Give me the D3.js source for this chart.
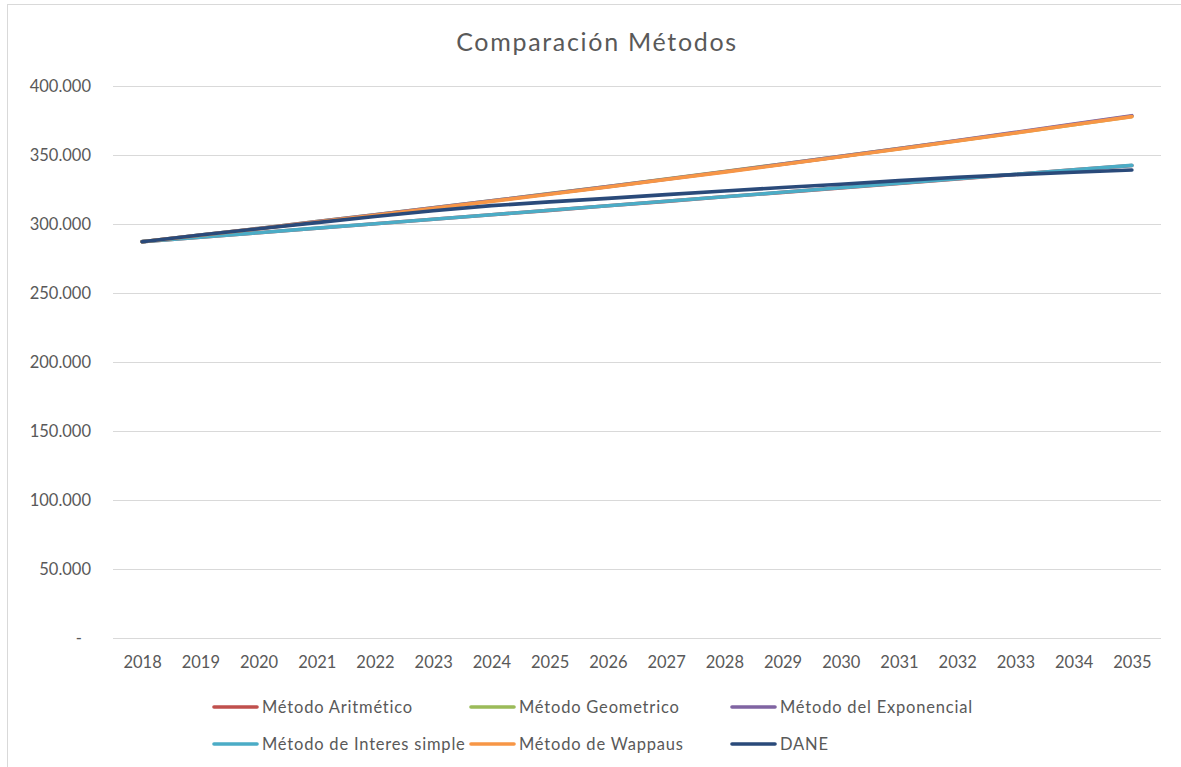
<!DOCTYPE html>
<html>
<head>
<meta charset="utf-8">
<script src="https://cdn.jsdelivr.net/npm/d3@7"></script>
<style>
  body { margin: 0; background: #fff; }
  svg text { font-family: Lato, "Open Sans", sans-serif; fill: #595959; }
</style>
</head>
<body>
<div id="container"></div>
<script>
// years on the category axis
var years = ["2018", "2019", "2020", "2021", "2022", "2023", "2024", "2025", "2026",
             "2027", "2028", "2029", "2030", "2031", "2032", "2033", "2034", "2035"];

// population per method
var aritmetico = [287200, 290400, 293700, 296900, 300200, 303400, 306700, 309900, 313200,
                  316400, 319700, 322900, 326200, 329400, 332700, 335900, 339200, 342400];
var geometrico = [287200, 292000, 296800, 301700, 306700, 311800, 316800, 322000, 327200,
                  332600, 338000, 343500, 349000, 354600, 360300, 366100, 372000, 378000];
var exponencial = [287200, 292000, 296800, 301700, 306600, 311700, 316800, 321900, 327100,
                   332400, 337900, 343400, 349000, 354700, 360500, 366400, 372400, 378500];
var interesSimple = [287200, 290500, 293700, 297000, 300200, 303500, 306700, 310000, 313200,
                     316500, 319700, 323000, 326300, 329500, 332800, 336000, 339300, 342500];
var wappaus = [287200, 291900, 296600, 301400, 306400, 311400, 316400, 321600, 326800,
               332200, 337600, 343100, 348700, 354300, 360100, 366000, 371900, 377800];
var dane = [287200, 292000, 296600, 301000, 305400, 309600, 313300, 316000, 318600,
            321300, 323900, 326400, 328800, 331400, 333900, 335800, 337500, 339100];

var yTicks = [0, 50000, 100000, 150000, 200000, 250000, 300000, 350000, 400000];

var series = [
  { name: "Método Aritmético", color: "#C0504D", values: aritmetico },
  { name: "Método Geometrico", color: "#9BBB59", values: geometrico },
  { name: "Método del Exponencial", color: "#8064A2", values: exponencial },
  { name: "Método de Interes simple", color: "#4BACC6", values: interesSimple },
  { name: "Método de Wappaus", color: "#F79646", values: wappaus },
  { name: "DANE", color: "#2A4A7A", values: dane }
];

var W = 1181, H = 767;
var svg = d3.select("#container").append("svg")
    .attr("width", W)
    .attr("height", H);

// chart border
svg.append("rect")
    .attr("x", 7.5).attr("y", 4.5)
    .attr("width", W).attr("height", H)
    .attr("fill", "#fff")
    .attr("stroke", "#D9D9D9");

// title
svg.append("text")
    .attr("x", 597).attr("y", 51)
    .attr("text-anchor", "middle")
    .style("font-size", "25px")
    .style("letter-spacing", "1.7px")
    .text("Comparación Métodos");

// scales
var x = d3.scalePoint()
    .domain(years)
    .range([113, 1161])
    .padding(0.5);

var y = d3.scaleLinear()
    .domain([0, 400000])
    .range([638, 86]);

var loc = d3.formatLocale({ decimal: ",", thousands: ".", grouping: [3], currency: ["$", ""] });
var fmt = loc.format(",.0f");

// gridlines
svg.append("g")
    .selectAll("line")
    .data(yTicks)
  .enter().append("line")
    .attr("x1", 113).attr("x2", 1161)
    .attr("y1", function(d) { return Math.round(y(d)) + 0.5; })
    .attr("y2", function(d) { return Math.round(y(d)) + 0.5; })
    .attr("stroke", "#D9D9D9")
    .attr("stroke-width", 1);

// y axis
var yAxis = svg.append("g")
    .attr("transform", "translate(113,0)")
    .call(d3.axisLeft(y).tickValues(yTicks).tickSize(0).tickPadding(22)
        .tickFormat(function(d) { return d === 0 ? "-" : fmt(d); }));
yAxis.select(".domain").remove();
yAxis.selectAll("text")
    .style("font-size", "16.5px")
    .attr("fill", "#595959")
    .attr("x", function(d) { return d === 0 ? -31 : -22; });

// x axis
var xAxis = svg.append("g")
    .attr("transform", "translate(0,638)")
    .call(d3.axisBottom(x).tickSize(0).tickPadding(18));
xAxis.select(".domain").remove();
xAxis.selectAll("text")
    .style("font-size", "16.5px")
    .attr("fill", "#595959");

// lines
var line = d3.line()
    .x(function(d, i) { return x(years[i]); })
    .y(function(d) { return y(d); });

svg.append("g")
    .selectAll("path")
    .data(series)
  .enter().append("path")
    .attr("d", function(s) { return line(s.values); })
    .attr("fill", "none")
    .attr("stroke", function(s) { return s.color; })
    .attr("stroke-width", 3.6)
    .attr("stroke-linecap", "round")
    .attr("stroke-linejoin", "round");

// legend
var legCols = [213, 470, 731];
var legRows = [707, 744];
var legend = svg.append("g")
    .selectAll("g")
    .data(series)
  .enter().append("g")
    .attr("transform", function(d, i) {
      return "translate(" + legCols[i % 3] + "," + legRows[Math.floor(i / 3)] + ")";
    });

legend.append("line")
    .attr("x1", 1).attr("x2", 44)
    .attr("y1", 0).attr("y2", 0)
    .attr("stroke", function(d) { return d.color; })
    .attr("stroke-width", 3.6)
    .attr("stroke-linecap", "round");

legend.append("text")
    .attr("x", 49).attr("y", 0)
    .attr("dy", "0.35em")
    .style("font-size", "16.5px")
    .style("letter-spacing", "0.8px")
    .text(function(d) { return d.name; });
</script>
</body>
</html>
